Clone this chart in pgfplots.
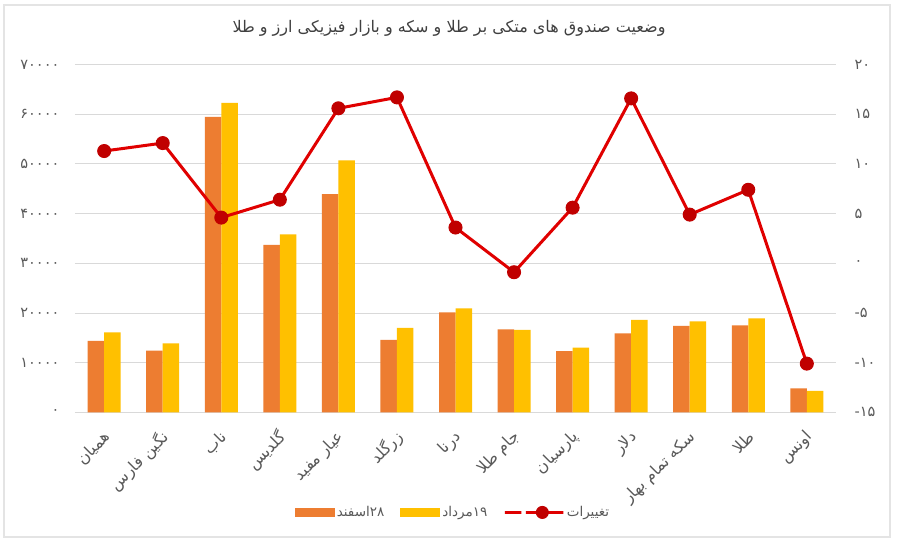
\documentclass[border=0pt]{standalone}
\usepackage{pgfplots}
\pgfplotsset{compat=1.18}
\usepackage{fontspec}
\setmainfont{DejaVu Sans}
\newfontfamily\arabicfont[Script=Arabic]{DejaVu Sans}
\TeXXeTstate=1

\definecolor{barOrange}{HTML}{ED7D31}
\definecolor{barYellow}{HTML}{FFC000}
\definecolor{lineRed}{HTML}{E00000}
\definecolor{markRed}{HTML}{C00000}
\definecolor{gridGray}{HTML}{D9D9D9}
\definecolor{textGray}{HTML}{595959}

\pgfplotsset{
  twin/.style={
    at={(74.9pt,129.7pt)}, anchor=south west,
    scale only axis, width=761.2pt, height=347.7pt,
    xmin=-0.5, xmax=12.5,
    major tick length=0pt,
    scaled y ticks=false,
  },
  barleg/.style={legend image code/.code={\fill[##1] (0pt,-4.5pt) rectangle (40pt,4.5pt);}},
  lineleg/.style={legend image code/.code={\draw[##1, mark repeat=2, mark phase=2]
    plot coordinates {(0pt,0pt) (21pt,0pt) (42pt,0pt)};}},
}

\begin{document}
\begin{tikzpicture}[x=1pt,y=1pt]
\fill[white] (0,0) rectangle (898,542);
\draw[gridGray!70, line width=1.5pt] (4,5) rectangle (890,537);
\node[font=\arabicfont\fontsize{16}{19}\selectfont, text=black!75] at (449,514)
  {\beginR وضعیت صندوق های متکی بر طلا و سکه و بازار فیزیکی ارز و طلا\endR};

% bars, left axis
\begin{axis}[twin,
  ymin=0, ymax=70000,
  ybar=0pt, bar width=16.5pt,
  axis line style={draw=none},
  ymajorgrids, grid style={gridGray, line width=0.9pt},
  xtick={0,...,12},
  xticklabels={
    {همیان},
    {\beginR نگین فارس\endR},
    {ناب},
    {گلدیس},
    {\beginR عیار مفید\endR},
    {زرگلد},
    {درنا},
    {\beginR جام طلا\endR},
    {پارسیان},
    {دلار},
    {\beginR سکه تمام بهار\endR},
    {طلا},
    {اونس}},
  xticklabel style={rotate=45, anchor=east, xshift=-10pt, yshift=-18pt,
    font=\arabicfont\fontsize{16}{19}\selectfont, text=textGray},
  ytick={0,10000,...,70000},
  yticklabels={۰,۱۰۰۰۰,۲۰۰۰۰,۳۰۰۰۰,۴۰۰۰۰,۵۰۰۰۰,۶۰۰۰۰,۷۰۰۰۰},
  yticklabel style={font=\arabicfont\fontsize{14.5}{17}\selectfont, text=textGray, xshift=-12pt},
  legend columns=-1,
  legend style={at={(0.4967,-0.288)}, anchor=center, draw=none,
    font=\arabicfont\fontsize{13.5}{16}\selectfont, text=textGray,
    /tikz/every even column/.append style={column sep=14pt}},
]
\addplot[fill=barOrange, draw=none, barleg]
  coordinates {
  (0,14400) (1,12400) (2,59500) (3,33700) (4,43900) (5,14600) (6,20100)
  (7,16700) (8,12300) (9,15900) (10,17400) (11,17500) (12,4800)
};
\addplot[fill=barYellow, draw=none, barleg]
  coordinates {
  (0,16100) (1,13900) (2,62300) (3,35800) (4,50700) (5,17000) (6,20900)
  (7,16600) (8,13000) (9,18600) (10,18300) (11,18900) (12,4300)
};
\addlegendimage{color=lineRed, line width=3pt, mark=*, mark size=6pt,
  mark options={fill=markRed, draw=markRed, line width=1pt}, lineleg}
\legend{{\hbox{اسفند}\hbox{۲۸}},{\hbox{مرداد}\hbox{۱۹}},{تغییرات}}
\end{axis}

% change line, right axis
\begin{axis}[twin,
  ymin=-15, ymax=20,
  hide x axis,
  axis y line*=right,
  y axis line style={draw=none},
  ytick={-15,-10,...,20},
  yticklabels={{\hbox{-}\hbox{۱۵}},{\hbox{-}\hbox{۱۰}},{\hbox{-}\hbox{۵}},۰,۵,۱۰,۱۵,۲۰},
  yticklabel style={font=\arabicfont\fontsize{14.5}{17}\selectfont, text=textGray, xshift=15pt},
]
\addplot[color=lineRed, line width=3pt, mark=*, mark size=6.5pt,
  mark options={fill=markRed, draw=markRed, line width=1pt}]
  coordinates {
  (0,11.3) (1,12.1) (2,4.6) (3,6.4) (4,15.6) (5,16.7) (6,3.6)
  (7,-0.9) (8,5.6) (9,16.6) (10,4.9) (11,7.4) (12,-10.1)
};
\end{axis}
\end{tikzpicture}
\end{document}
